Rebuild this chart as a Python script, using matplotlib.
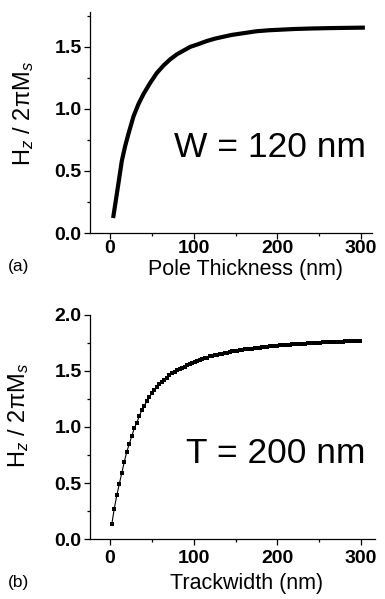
import matplotlib
matplotlib.use("Agg")
import matplotlib.pyplot as plt
from matplotlib.ticker import MultipleLocator, FormatStrFormatter

plt.rcParams['font.family'] = ['Liberation Sans', 'DejaVu Sans']
plt.rcParams['mathtext.fontset'] = 'custom'
plt.rcParams['mathtext.rm'] = 'Liberation Sans'
plt.rcParams['mathtext.it'] = 'Liberation Sans:italic'

# (a) campo vs espesor del polo, W = 120 nm
espesor = [4, 10, 14, 18, 22, 28, 34, 40, 48, 56, 64, 72, 80, 88, 96, 105, 115,
           125, 135, 145, 160, 175, 190, 205, 220, 240, 260, 280, 302]
hz_espesor = [0.137, 0.40, 0.58, 0.70, 0.80, 0.94, 1.04, 1.12, 1.21, 1.29, 1.35,
              1.40, 1.44, 1.47, 1.50, 1.52, 1.545, 1.565, 1.58, 1.595, 1.61,
              1.625, 1.633, 1.638, 1.643, 1.647, 1.65, 1.652, 1.654]

# (b) campo vs ancho de pista, T = 200 nm
ancho = [2, 5, 8, 11, 14, 17, 20, 23, 26, 29, 32, 35, 38, 41, 44, 47, 50, 53, 56, 59,
         62, 65, 68, 71, 74, 77, 80, 83, 86, 89, 92, 95, 98, 101, 104, 107, 110, 113,
         116, 119, 122, 125, 128, 131, 134, 137, 140, 143, 146, 149, 152, 155, 158,
         161, 164, 167, 170, 173, 176, 179, 182, 185, 188, 191, 194, 197, 200, 203,
         206, 209, 212, 215, 218, 221, 224, 227, 230, 233, 236, 239, 242, 245, 248,
         251, 254, 257, 260, 263, 266, 269, 272, 275, 278, 281, 284, 287, 290, 293,
         296, 299]
hz_ancho = [0.13, 0.27, 0.39, 0.49, 0.59, 0.69, 0.78, 0.85, 0.92, 0.99, 1.04, 1.10,
            1.15, 1.19, 1.23, 1.27, 1.30, 1.33, 1.36, 1.38, 1.40, 1.42, 1.44, 1.46,
            1.48, 1.49, 1.51, 1.52, 1.53, 1.54, 1.55, 1.56, 1.57, 1.58, 1.59, 1.60,
            1.61, 1.615, 1.62, 1.63, 1.635, 1.64, 1.645, 1.65, 1.655, 1.66, 1.665,
            1.67, 1.675, 1.68, 1.683, 1.686, 1.689, 1.692, 1.695, 1.698, 1.70, 1.703,
            1.706, 1.709, 1.712, 1.715, 1.718, 1.72, 1.722, 1.724, 1.726, 1.728,
            1.73, 1.732, 1.734, 1.736, 1.737, 1.739, 1.741, 1.742, 1.744, 1.745,
            1.747, 1.748, 1.75, 1.751, 1.752, 1.754, 1.755, 1.756, 1.757, 1.758,
            1.759, 1.760, 1.761, 1.762, 1.763, 1.764, 1.765, 1.766, 1.767, 1.768,
            1.769, 1.77]

ylabel = "H$_z$ / 2πM$_s$"

fig = plt.figure(figsize=(3.85, 5.99), dpi=100)
ax1 = fig.add_axes([90/385, 1-233/599, 282/385, 221/599])
ax2 = fig.add_axes([90/385, 1-539/599, 285/385, 224/599])


def estilo(ax, ymax, xmax, xlabel, pad_x, xl_y, yl_x, yl_y):
    for lado in ['top', 'right']:
        ax.spines[lado].set_visible(False)
    for lado in ['left', 'bottom']:
        ax.spines[lado].set_linewidth(0.9)
    ax.set_xlim(-24, xmax)
    ax.set_ylim(0, ymax)
    ax.xaxis.set_major_locator(MultipleLocator(100))
    ax.xaxis.set_minor_locator(MultipleLocator(50))
    ax.yaxis.set_major_locator(MultipleLocator(0.5))
    ax.yaxis.set_minor_locator(MultipleLocator(0.25))
    ax.yaxis.set_major_formatter(FormatStrFormatter('%.1f'))
    ax.tick_params(which='major', direction='out', length=4, width=0.9,
                   labelsize=14, pad=2)
    ax.tick_params(axis='x', which='major', pad=pad_x)
    ax.tick_params(which='minor', direction='out', length=2, width=0.9)
    for t in ax.get_xticklabels() + ax.get_yticklabels():
        t.set_fontweight('bold')
    ax.set_xlabel(xlabel, fontsize=15.5)
    ax.xaxis.label.set_verticalalignment('center')
    ax.xaxis.set_label_coords(0.55, xl_y)
    ax.set_ylabel(ylabel, fontsize=17)
    ax.yaxis.label.set_verticalalignment('center')
    ax.yaxis.set_label_coords(yl_x, yl_y)


ax1.plot(espesor, hz_espesor, color='black', linewidth=3)
estilo(ax1, 1.78, 313, "Pole Thickness (nm)", 1, -36/221, -0.234, 0.54)
ax1.text(0.98, 0.345, "W = 120 nm", transform=ax1.transAxes, ha='right',
         va='baseline', fontsize=25.5)

ax2.plot(ancho, hz_ancho, color='black', linewidth=0.8, marker='s',
         markersize=3.5, markeredgewidth=0)
estilo(ax2, 2.0, 316.6, "Trackwidth (nm)", 4, -45/224, -0.25, 0.553)
ax2.text(0.967, 0.34, "T = 200 nm", transform=ax2.transAxes, ha='right',
         va='baseline', fontsize=25.5)

fig.text(8/385, 1-266/599, "(a)", fontsize=12.5, va='center')
fig.text(8/385, 1-583/599, "(b)", fontsize=12.5, va='center')

fig.savefig("out.png", dpi=100)
